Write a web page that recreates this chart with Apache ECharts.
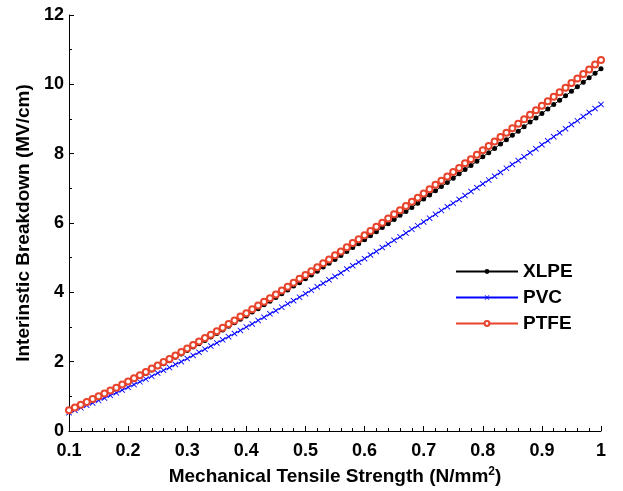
<!DOCTYPE html>
<html>
<head>
<meta charset="utf-8">
<script src="https://cdn.jsdelivr.net/npm/echarts@6/dist/echarts.min.js"></script>
<style>
  html, body { margin: 0; padding: 0; background: #fff; }
  #chart { width: 623px; height: 491px; }
</style>
</head>
<body>
<div id="chart"></div>
<script>
// Mechanical tensile strength (N/mm^2), sampled every 0.01
const strength = [
  0.10,0.11,0.12,0.13,0.14,0.15,0.16,0.17,0.18,0.19,
  0.20,0.21,0.22,0.23,0.24,0.25,0.26,0.27,0.28,0.29,
  0.30,0.31,0.32,0.33,0.34,0.35,0.36,0.37,0.38,0.39,
  0.40,0.41,0.42,0.43,0.44,0.45,0.46,0.47,0.48,0.49,
  0.50,0.51,0.52,0.53,0.54,0.55,0.56,0.57,0.58,0.59,
  0.60,0.61,0.62,0.63,0.64,0.65,0.66,0.67,0.68,0.69,
  0.70,0.71,0.72,0.73,0.74,0.75,0.76,0.77,0.78,0.79,
  0.80,0.81,0.82,0.83,0.84,0.85,0.86,0.87,0.88,0.89,
  0.90,0.91,0.92,0.93,0.94,0.95,0.96,0.97,0.98,0.99,
  1.00
];

// Intrinsic breakdown (MV/cm) for each insulation material
const xlpe = [
  0.59,0.66,0.74,0.82,0.89,0.98,1.06,1.14,1.23,1.31,
  1.40,1.49,1.57,1.66,1.76,1.85,1.94,2.03,2.13,2.22,
  2.32,2.42,2.52,2.61,2.71,2.81,2.91,3.02,3.12,3.22,
  3.32,3.43,3.53,3.64,3.74,3.85,3.96,4.07,4.18,4.28,
  4.39,4.50,4.61,4.73,4.84,4.95,5.06,5.18,5.29,5.40,
  5.52,5.63,5.75,5.87,5.98,6.10,6.22,6.33,6.45,6.57,
  6.69,6.81,6.93,7.05,7.17,7.29,7.42,7.54,7.66,7.78,
  7.91,8.03,8.15,8.28,8.40,8.53,8.65,8.78,8.91,9.03,
  9.16,9.29,9.42,9.54,9.67,9.80,9.93,10.06,10.19,10.32,
  10.45
];
const pvc = [
  0.53,0.60,0.67,0.74,0.81,0.88,0.95,1.03,1.10,1.18,
  1.26,1.34,1.42,1.50,1.58,1.67,1.75,1.83,1.92,2.00,
  2.09,2.18,2.27,2.36,2.45,2.54,2.63,2.72,2.81,2.90,
  3.00,3.09,3.19,3.28,3.38,3.47,3.57,3.67,3.76,3.86,
  3.96,4.06,4.16,4.26,4.36,4.46,4.56,4.67,4.77,4.87,
  4.97,5.08,5.18,5.29,5.39,5.50,5.60,5.71,5.82,5.92,
  6.03,6.14,6.25,6.36,6.47,6.57,6.68,6.79,6.91,7.02,
  7.13,7.24,7.35,7.46,7.58,7.69,7.80,7.91,8.03,8.14,
  8.26,8.37,8.49,8.60,8.72,8.84,8.95,9.07,9.19,9.30,
  9.42
];
const ptfe = [
  0.60,0.68,0.76,0.84,0.92,1.00,1.08,1.17,1.25,1.34,
  1.43,1.52,1.61,1.70,1.80,1.89,1.99,2.08,2.18,2.28,
  2.38,2.48,2.58,2.68,2.78,2.88,2.98,3.09,3.19,3.30,
  3.40,3.51,3.62,3.73,3.83,3.94,4.05,4.16,4.28,4.39,
  4.50,4.61,4.72,4.84,4.95,5.07,5.18,5.30,5.42,5.53,
  5.65,5.77,5.89,6.01,6.13,6.25,6.37,6.49,6.61,6.73,
  6.85,6.97,7.10,7.22,7.34,7.47,7.59,7.72,7.84,7.97,
  8.10,8.22,8.35,8.48,8.60,8.73,8.86,8.99,9.12,9.25,
  9.38,9.51,9.64,9.77,9.90,10.04,10.17,10.30,10.43,10.57,
  10.70
];

const FONT = '"Liberation Sans", Arial, Helvetica, sans-serif';
const RED = '#e8432b';
const CROSS = 'path://M0,1L1,0L5,4L9,0L10,1L6,5L10,9L9,10L5,6L1,10L0,9L4,5Z';

const pair = (ys) => strength.map((x, i) => [x, ys[i]]);

const chart = echarts.init(document.getElementById('chart'), null, { renderer: 'canvas' });

chart.setOption({
  animation: false,
  backgroundColor: '#fff',
  grid: { left: 69, right: 22, top: 15, bottom: 58, containLabel: false },
  legend: {
    orient: 'vertical',
    left: 455,
    top: 262,
    padding: 0,
    itemWidth: 62,
    itemHeight: 6,
    itemGap: 7,
    textStyle: { fontFamily: FONT, fontWeight: 'bold', fontSize: 19, color: '#000' },
    data: ['XLPE', 'PVC', 'PTFE']
  },
  xAxis: {
    type: 'value',
    min: 0.1,
    max: 1,
    interval: 0.1,
    name: 'Mechanical Tensile Strength (N/mm{sup|2})',
    nameLocation: 'middle',
    nameGap: 35,
    nameTextStyle: {
      fontFamily: FONT, fontWeight: 'bold', fontSize: 19, color: '#000',
      rich: { sup: { fontFamily: FONT, fontWeight: 'bold', fontSize: 12, verticalAlign: 'top', padding: [0, 0, 9, 0] } }
    },
    axisLine: { show: true, lineStyle: { color: '#000', width: 1 } },
    axisTick: { show: true, inside: true, length: 5, lineStyle: { color: '#000' } },
    minorTick: { show: true, splitNumber: 5, length: 3, lineStyle: { color: '#000' } },
    splitLine: { show: false },
    axisLabel: {
      fontFamily: FONT, fontWeight: 'bold', fontSize: 18, color: '#000', margin: 11,
      formatter: (v) => String(+v.toFixed(1))
    }
  },
  yAxis: {
    type: 'value',
    min: 0,
    max: 12,
    interval: 2,
    name: 'Interinstic Breakdown (MV/cm)',
    nameLocation: 'middle',
    nameGap: 34,
    nameTextStyle: { fontFamily: FONT, fontWeight: 'bold', fontSize: 19, color: '#000' },
    axisLine: { show: true, lineStyle: { color: '#000', width: 1 } },
    axisTick: { show: true, inside: true, length: 5, lineStyle: { color: '#000' } },
    minorTick: { show: true, splitNumber: 2, length: 3, lineStyle: { color: '#000' } },
    splitLine: { show: false },
    axisLabel: { fontFamily: FONT, fontWeight: 'bold', fontSize: 18, color: '#000', margin: 5 }
  },
  series: [
    {
      name: 'XLPE',
      type: 'line',
      data: pair(xlpe),
      symbol: 'circle',
      symbolSize: 5,
      showAllSymbol: true,
      lineStyle: { color: '#000', width: 1 },
      itemStyle: { color: '#000' },
      z: 2
    },
    {
      name: 'PVC',
      type: 'line',
      data: pair(pvc),
      symbol: CROSS,
      symbolSize: 6,
      showAllSymbol: true,
      lineStyle: { color: '#0000ff', width: 1 },
      itemStyle: { color: '#0000ff' },
      z: 3
    },
    {
      name: 'PTFE',
      type: 'line',
      data: pair(ptfe),
      symbol: 'emptyCircle',
      symbolSize: 6,
      showAllSymbol: true,
      lineStyle: { color: RED, width: 1 },
      itemStyle: { color: RED, borderColor: RED, borderWidth: 1 },
      z: 4
    }
  ]
});
</script>
</body>
</html>
